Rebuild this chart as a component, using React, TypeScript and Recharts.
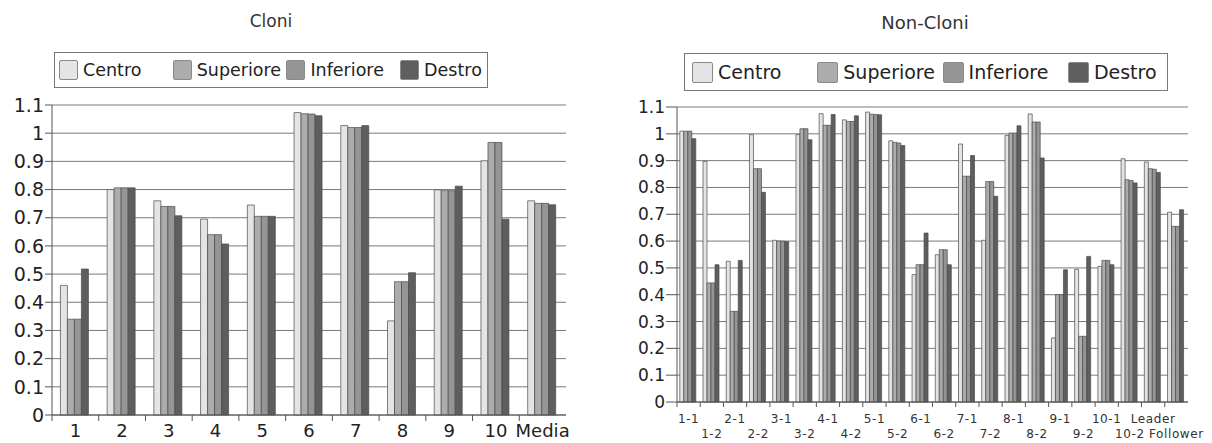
import React from 'react';
import { BarChart, Bar, XAxis, YAxis, CartesianGrid } from 'recharts';

// Cloni (left panel)
const categoriesCloni = ['1', '2', '3', '4', '5', '6', '7', '8', '9', '10', 'Media'];
const centroCloni = [0.46, 0.8, 0.76, 0.695, 0.745, 1.073, 1.027, 0.334, 0.799, 0.902, 0.76];
const superioreCloni = [0.34, 0.806, 0.74, 0.64, 0.705, 1.069, 1.02, 0.473, 0.796, 0.967, 0.751];
const inferioreCloni = [0.34, 0.806, 0.74, 0.64, 0.705, 1.068, 1.02, 0.473, 0.796, 0.967, 0.751];
const destroCloni = [0.518, 0.806, 0.707, 0.607, 0.705, 1.062, 1.027, 0.505, 0.812, 0.695, 0.746];

// Non-Cloni (right panel)
const categoriesNonCloni = [
  '1-1', '1-2', '2-1', '2-2', '3-1', '3-2', '4-1', '4-2', '5-1', '5-2', '6-1',
  '6-2', '7-1', '7-2', '8-1', '8-2', '9-1', '9-2', '10-1', '10-2', 'Leader', 'Follower',
];
const centroNonCloni = [
  1.01, 0.897, 0.525, 0.997, 0.603, 0.997, 1.075, 1.052, 1.081, 0.974, 0.475,
  0.549, 0.962, 0.603, 0.994, 1.074, 0.239, 0.495, 0.506, 0.907, 0.895, 0.708,
];
const superioreNonCloni = [
  1.01, 0.444, 0.338, 0.87, 0.6, 1.019, 1.032, 1.046, 1.073, 0.968, 0.512,
  0.568, 0.842, 0.822, 1.003, 1.044, 0.4, 0.245, 0.528, 0.829, 0.87, 0.655,
];
const inferioreNonCloni = [
  1.01, 0.444, 0.338, 0.87, 0.6, 1.019, 1.032, 1.046, 1.072, 0.966, 0.512,
  0.568, 0.842, 0.822, 1.003, 1.044, 0.4, 0.245, 0.528, 0.826, 0.868, 0.655,
];
const destroNonCloni = [
  0.982, 0.512, 0.528, 0.782, 0.598, 0.978, 1.072, 1.067, 1.071, 0.956, 0.63,
  0.512, 0.919, 0.767, 1.03, 0.91, 0.493, 0.543, 0.512, 0.817, 0.856, 0.717,
];

const yTicks = [0, 0.1, 0.2, 0.3, 0.4, 0.5, 0.6, 0.7, 0.8, 0.9, 1, 1.1];
const seriesNames = ['Centro', 'Superiore', 'Inferiore', 'Destro'];

const COLORS = ['#e4e4e4', '#acacac', '#959595', '#5e5e5e'];
const FONT = '"DejaVu Sans", sans-serif';

const dataCloni = categoriesCloni.map((name, i) => ({
  name,
  centro: centroCloni[i],
  superiore: superioreCloni[i],
  inferiore: inferioreCloni[i],
  destro: destroCloni[i],
}));

const dataNonCloni = categoriesNonCloni.map((name, i) => ({
  name,
  centro: centroNonCloni[i],
  superiore: superioreNonCloni[i],
  inferiore: inferioreNonCloni[i],
  destro: destroNonCloni[i],
}));

const fmt = (v: number) => String(Math.round(v * 10) / 10);

const LegendBox = ({ left, top, width, height, step, pad, swatch, fontSize }: any) => (
  <div
    style={{
      position: 'absolute', left, top, width, height, boxSizing: 'border-box',
      border: '1px solid #777', background: '#fff',
    }}
  >
    {seriesNames.map((s, i) => (
      <div
        key={s}
        style={{
          position: 'absolute', left: pad + i * step, top: 0, height: height - 2,
          display: 'flex', alignItems: 'center', gap: 5,
        }}
      >
        <div
          style={{
            width: swatch[0], height: swatch[1], background: COLORS[i],
            border: '1px solid #8a8a8a', borderRadius: 2, boxSizing: 'border-box',
          }}
        />
        <span style={{ fontFamily: FONT, fontSize, color: '#222', whiteSpace: 'nowrap' }}>{s}</span>
      </div>
    ))}
  </div>
);

const bars = () =>
  ['centro', 'superiore', 'inferiore', 'destro'].map((k, i) => (
    <Bar
      key={k}
      dataKey={k}
      fill={COLORS[i]}
      stroke="#4a4a4a"
      strokeWidth={0.7}
      isAnimationActive={false}
    />
  ));

// left panel tick: label centred, small mark at the band's left edge
const CloniTick = ({ x, payload }: any) => {
  const band = (566 - 52) / categoriesCloni.length;
  return (
    <g>
      <line x1={x - band / 2} x2={x - band / 2} y1={415} y2={421} stroke="#555" />
      <text x={x} y={437} textAnchor="middle" fontFamily={FONT} fontSize={18} fill="#222">
        {payload.value}
      </text>
    </g>
  );
};

// right panel tick: labels on two alternating rows
const NonCloniTick = ({ x, payload, index }: any) => {
  const band = (1188 - 677) / categoriesNonCloni.length;
  const y = index % 2 === 0 ? 423 : 438;
  return (
    <g>
      <line x1={x - band / 2} x2={x - band / 2} y1={402} y2={407} stroke="#555" />
      <text x={x} y={y} textAnchor="middle" fontFamily={FONT} fontSize={12} fill="#333" letterSpacing={0.6}>
        {payload.value}
      </text>
    </g>
  );
};

export default function App() {
  return (
    <div style={{ position: 'absolute', left: 0, top: 0, width: 1212, height: 443, background: '#fff', overflow: 'hidden' }}>
      <div
        style={{
          position: 'absolute', left: 0, width: 542, top: 11, textAlign: 'center',
          fontFamily: FONT, fontSize: 17, color: '#333',
        }}
      >
        Cloni
      </div>
      <div
        style={{
          position: 'absolute', left: 600, width: 650, top: 12, textAlign: 'center',
          fontFamily: FONT, fontSize: 18, color: '#333',
        }}
      >
        Non-Cloni
      </div>

      <div style={{ position: 'absolute', left: 0, top: 0 }}>
        <BarChart
          width={580}
          height={443}
          data={dataCloni}
          margin={{ top: 105, right: 14, bottom: 0, left: 0 }}
          barGap={0}
          barCategoryGap="18%"
        >
          <CartesianGrid vertical={false} stroke="#7a7a7a" />
          <XAxis
            dataKey="name"
            height={28}
            axisLine={{ stroke: '#555' }}
            tickLine={false}
            tick={<CloniTick />}
            interval={0}
          />
          <YAxis
            width={52}
            domain={[0, 1.1]}
            ticks={yTicks}
            tickFormatter={fmt}
            tickSize={7}
            tickMargin={1}
            axisLine={{ stroke: '#555' }}
            tickLine={{ stroke: '#555' }}
            tick={{ fontFamily: FONT, fontSize: 19, fill: '#222' }}
            interval={0}
          />
          {bars()}
        </BarChart>
      </div>

      <div style={{ position: 'absolute', left: 600, top: 0 }}>
        <BarChart
          width={612}
          height={443}
          data={dataNonCloni}
          margin={{ top: 107, right: 24, bottom: 0, left: 0 }}
          barGap={0}
          barCategoryGap="12%"
        >
          <CartesianGrid vertical={false} stroke="#7a7a7a" />
          <XAxis
            dataKey="name"
            height={41}
            axisLine={{ stroke: '#555' }}
            tickLine={false}
            tick={<NonCloniTick />}
            interval={0}
          />
          <YAxis
            width={77}
            domain={[0, 1.1]}
            ticks={yTicks}
            tickFormatter={fmt}
            tickSize={11}
            tickMargin={1}
            axisLine={{ stroke: '#555' }}
            tickLine={{ stroke: '#555' }}
            tick={{ fontFamily: FONT, fontSize: 17, fill: '#222' }}
            interval={0}
          />
          {bars()}
        </BarChart>
      </div>

      <LegendBox left={54} top={52} width={434} height={36} pad={4} step={113.7} swatch={[19, 20]} fontSize={17.5} />
      <LegendBox left={684} top={53} width={484} height={38} pad={7} step={125.3} swatch={[21, 21]} fontSize={19} />
    </div>
  );
}
